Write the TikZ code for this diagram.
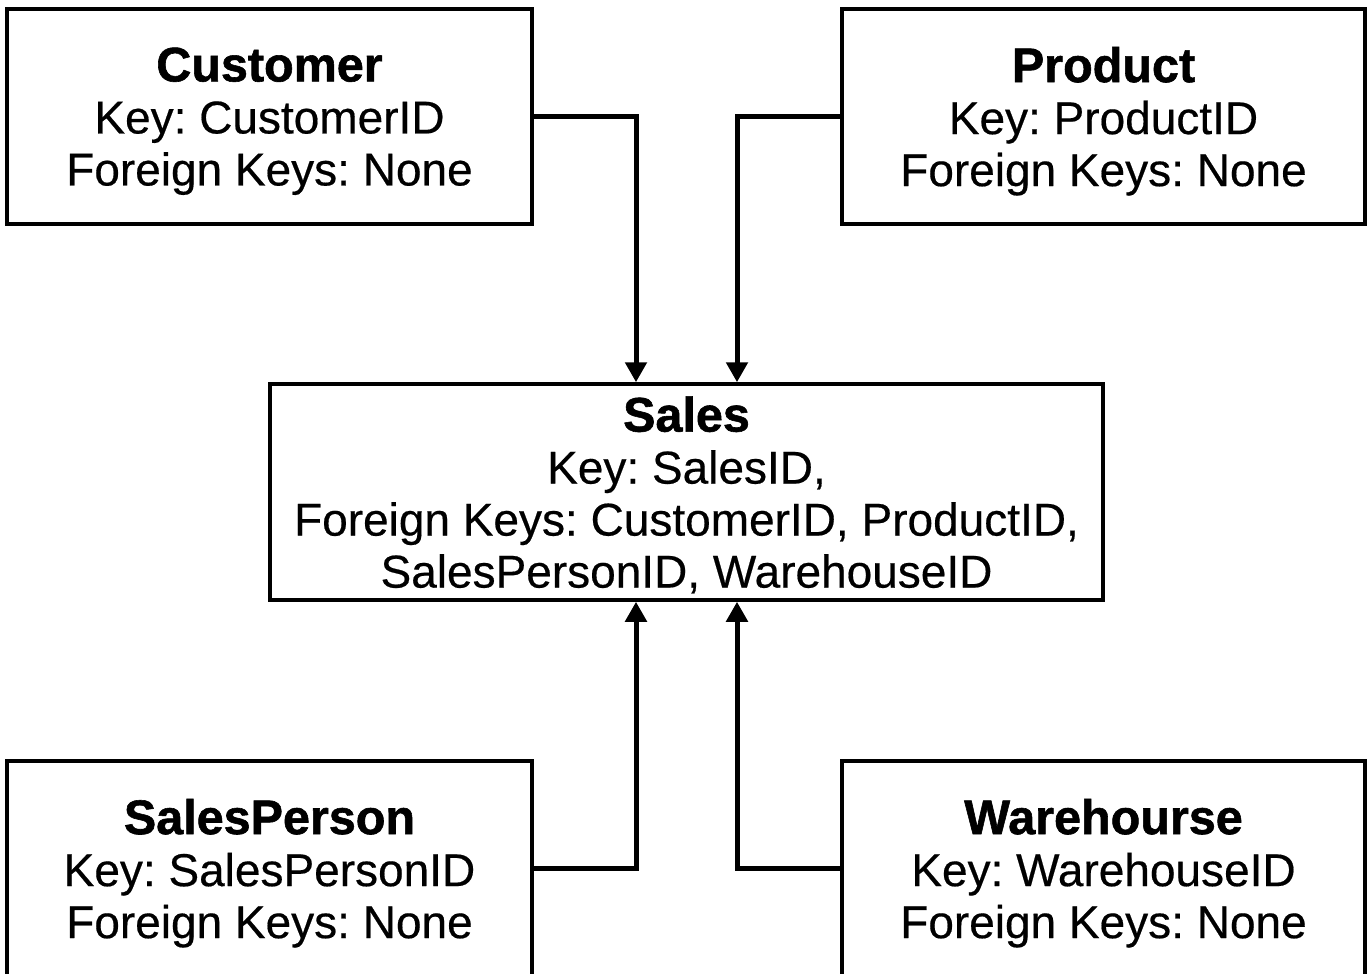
\documentclass[tikz,border=0pt]{standalone}
\usepackage{fontspec}
\setmainfont[FakeBold=0.4]{Liberation Sans}
\newfontfamily\titlefont[FakeBold=1.2]{Liberation Sans Bold}
\usetikzlibrary{arrows.meta}
\newcommand{\ttl}[1]{{\titlefont\fontsize{48.5}{52}\selectfont #1}}
\tikzset{
  entity/.style={draw=black, line width=3.5pt, fill=white, inner sep=0pt,
    minimum width=525pt, minimum height=215pt, align=center, text depth=0pt,
    font=\fontsize{46}{52}\selectfont\frenchspacing},
  conn/.style={line width=5pt, -{Triangle[length=20pt,width=21pt]}},
}
\begin{document}
\begin{tikzpicture}[x=1pt,y=-1pt]
\clip (0,0) rectangle (1371,974);
\fill[white] (0,0) rectangle (1371,974);
\node[entity] (cust) at (269.5,116.5) {\ttl{Customer}\\Key: CustomerID\\Foreign Keys: None};
\node[entity, minimum width=523pt] (prod) at (1103.5,116.5) {\ttl{Product}\\Key: ProductID\\Foreign Keys: None};
\node[entity, minimum width=833pt, minimum height=216pt] (sales) at (686.5,492) {\ttl{Sales}\\Key: SalesID,\\Foreign Keys: CustomerID, ProductID,\\SalesPersonID, WarehouseID};
\node[entity] (sp) at (269.5,868.5) {\ttl{SalesPerson}\\Key: SalesPersonID\\Foreign Keys: None};
\node[entity, minimum width=523pt] (wh) at (1103.5,868.5) {\ttl{Warehourse}\\Key: WarehouseID\\Foreign Keys: None};
\coordinate (sn1) at ([xshift=-50.5pt]sales.north);
\coordinate (sn2) at ([xshift=50.5pt]sales.north);
\coordinate (ss1) at ([xshift=-50.5pt]sales.south);
\coordinate (ss2) at ([xshift=50.5pt]sales.south);
\draw[conn] (cust.east) -| (sn1);
\draw[conn] (prod.west) -| (sn2);
\draw[conn] (sp.east) -| (ss1);
\draw[conn] (wh.west) -| (ss2);
\end{tikzpicture}
\end{document}
